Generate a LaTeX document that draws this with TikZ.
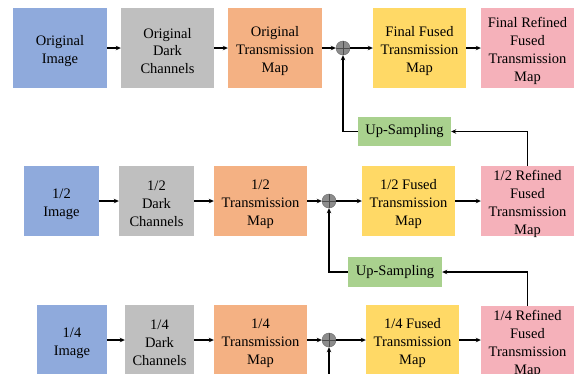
\documentclass[tikz,border=0pt]{standalone}
\usepackage{fontspec}
\setmainfont{Liberation Serif}
\newfontfamily\labelfont{Liberation Serif}
\usetikzlibrary{arrows.meta}

\definecolor{imgblue}{HTML}{8FAADC}
\definecolor{darkgray}{HTML}{BFBFBF}
\definecolor{transorange}{HTML}{F4B183}
\definecolor{fusedyellow}{HTML}{FFD966}
\definecolor{refinedpink}{HTML}{F5B1BA}
\definecolor{upgreen}{HTML}{A9D18E}
\definecolor{sumgray}{HTML}{8C8C8C}

\begin{document}
\begin{tikzpicture}[x=1pt,y=-1pt,
  textstyle/.style={inner sep=0pt, align=center, font=\labelfont\fontsize{14.5}{17.8}\selectfont},
  % box with its caption set a little below the geometric centre
  box/.style={inner sep=0pt, label={[textstyle, yshift=-3pt]center:{#1}}},
  blk/.style={box=#1, minimum height=80pt},
  blkb/.style={box=#1, minimum height=70pt},
  upbox/.style={textstyle, fill=upgreen, minimum width=93pt, minimum height=29pt},
  sumnode/.style={circle, fill=sumgray, draw=black!60, line width=0.4pt, minimum size=14pt, inner sep=0pt,
    path picture={\draw[black!70, line width=0.6pt]
      (path picture bounding box.north) -- (path picture bounding box.south)
      (path picture bounding box.west) -- (path picture bounding box.east);}},
  arr/.style={line width=1.1pt, -{Stealth[length=5pt,width=4.5pt]}}
]
\useasboundingbox (0,0) rectangle (581,373);
\clip (0,0) rectangle (581,373);

% full-resolution branch
\node[blk={Original\\Image}, fill=imgblue, minimum width=94pt] (oi) at (60,48) {};
\node[blk={Original\\Dark\\Channels}, fill=darkgray, minimum width=93pt] (odc) at (167.5,48) {};
\node[blk={Original\\Transmission\\Map}, fill=transorange, minimum width=94pt] (otm) at (275,48) {};
\node[sumnode] (p1) at (343,48) {};
\node[blk={Final Fused\\Transmission\\Map}, fill=fusedyellow, minimum width=93pt] (fft) at (419.5,48) {};
\node[blk={Final Refined\\Fused\\Transmission\\Map}, fill=refinedpink, minimum width=93pt] (frf) at (527.5,48) {};
\node[upbox] (us1) at (404.5,131.5) {Up-Sampling};

% half-resolution branch
\node[blkb={1/2\\Image}, fill=imgblue, minimum width=75pt] (hi) at (61.5,201) {};
\node[blkb={1/2\\Dark\\Channels}, fill=darkgray, minimum width=75pt] (hdc) at (156.5,201) {};
\node[blkb={1/2\\Transmission\\Map}, fill=transorange, minimum width=93pt] (htm) at (260.5,201) {};
\node[sumnode] (p2) at (329,201) {};
\node[blkb={1/2 Fused\\Transmission\\Map}, fill=fusedyellow, minimum width=93pt] (hft) at (408.5,201) {};
\node[blkb={1/2 Refined\\Fused\\Transmission\\Map}, fill=refinedpink, minimum width=93pt] (hrf) at (527.5,201) {};
\node[upbox, minimum width=94pt, minimum height=30pt] (us2) at (395,272) {Up-Sampling};

% quarter-resolution branch
\node[blkb={1/4\\Image}, fill=imgblue, minimum width=70pt] (qi) at (72,340) {};
\node[blkb={1/4\\Dark\\Channels}, fill=darkgray, minimum width=69pt] (qdc) at (159.5,340) {};
\node[blkb={1/4\\Transmission\\Map}, fill=transorange, minimum width=93pt] (qtm) at (260.5,340) {};
\node[sumnode] (p3) at (329,340) {};
\node[blkb={1/4 Fused\\Transmission\\Map}, fill=fusedyellow, minimum width=93pt] (qft) at (412.5,340) {};
\node[blkb={1/4 Refined\\Fused\\Transmission\\Map}, fill=refinedpink, minimum width=93pt] (qrf) at (527.5,341) {};
\coordinate (qin) at (329,400);

% forward connectors
\draw[arr] (oi) -- (odc);
\draw[arr] (odc) -- (otm);
\draw[arr] (otm) -- (p1);
\draw[arr] (p1) -- (fft);
\draw[arr] (fft) -- (frf);

\draw[arr] (hi) -- (hdc);
\draw[arr] (hdc) -- (htm);
\draw[arr] (htm) -- (p2);
\draw[arr] (p2) -- (hft);
\draw[arr] (hft) -- (hrf);

\draw[arr] (qi) -- (qdc);
\draw[arr] (qdc) -- (qtm);
\draw[arr] (qtm) -- (p3);
\draw[arr] (p3) -- (qft);
\draw[arr] (qft.east) -- (qrf.west |- qft.east);

% up-sampling feedback
\draw[arr] (hrf.north) |- (us1.east);
\draw[arr] (us1.west) -| (p1.south);
\draw[arr] (qrf.north) |- (us2.east);
\draw[arr] (us2.west) -| (p2.south);
\draw[arr] (qin) -- (p3.south);
\end{tikzpicture}
\end{document}
